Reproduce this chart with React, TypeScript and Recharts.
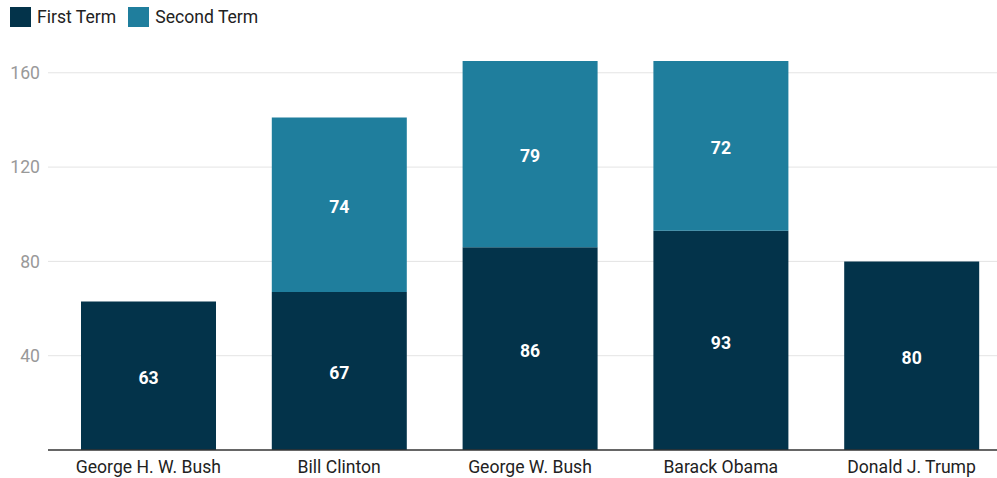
import { Bar, BarChart, CartesianGrid, LabelList, XAxis, YAxis } from 'recharts';

const presidents = ['George H. W. Bush', 'Bill Clinton', 'George W. Bush', 'Barack Obama', 'Donald J. Trump'];
const firstTerm = [63, 67, 86, 93, 80];
const secondTerm: (number | null)[] = [null, 74, 79, 72, null];
const yTicks = [40, 80, 120, 160];

const FIRST_COLOR = '#03334a';
const SECOND_COLOR = '#1f7e9d';

const data = presidents.map((name, i) => ({
  name,
  first: firstTerm[i],
  second: secondTerm[i],
}));

const legendItems = [
  { label: 'First Term', color: FIRST_COLOR },
  { label: 'Second Term', color: SECOND_COLOR },
];

function ChartLegend() {
  return (
    <div style={{ position: 'absolute', left: 10, top: 7, display: 'flex', alignItems: 'center' }}>
      {legendItems.map(item => (
        <div key={item.label} style={{ display: 'flex', alignItems: 'center', marginRight: 12 }}>
          <span style={{ display: 'inline-block', width: 21, height: 20, background: item.color, marginRight: 6 }} />
          <span style={{ fontSize: 17.6, color: '#222', lineHeight: '20px' }}>{item.label}</span>
        </div>
      ))}
    </div>
  );
}

export default function App() {
  const labelFormat = (v: any) => (v == null ? '' : v);

  return (
    <div
      style={{
        position: 'fixed',
        left: 0,
        top: 0,
        width: 997,
        height: 478,
        overflow: 'hidden',
        background: '#fff',
        fontFamily: 'Roboto, "Noto Sans", sans-serif',
      }}
    >
      <ChartLegend />
      <BarChart width={1010} height={478} data={data} margin={{ top: 61, right: 3, bottom: 0, left: 0 }}>
        <CartesianGrid vertical={false} horizontalValues={yTicks} stroke="#e4e4e4" />
        <XAxis
          dataKey="name"
          height={28}
          padding={{ left: 5, right: 0 }}
          tickLine={false}
          axisLine={{ stroke: '#333', strokeWidth: 1.5 }}
          tick={{ fill: '#222', fontSize: 17.6 }}
          tickMargin={5}
        />
        <YAxis
          width={48}
          domain={[0, 165]}
          ticks={yTicks}
          tickLine={false}
          axisLine={false}
          tick={{ fill: '#999', fontSize: 17.6 }}
        />
        <Bar dataKey="first" stackId="a" fill={FIRST_COLOR} barSize={135} isAnimationActive={false}>
          <LabelList dataKey="first" position="center" fill="#fff" fontSize={17.6} fontWeight="bold" formatter={labelFormat} dy={2} />
        </Bar>
        <Bar dataKey="second" stackId="a" fill={SECOND_COLOR} barSize={135} isAnimationActive={false}>
          <LabelList dataKey="second" position="center" fill="#fff" fontSize={17.6} fontWeight="bold" formatter={labelFormat} dy={2} />
        </Bar>
      </BarChart>
    </div>
  );
}
